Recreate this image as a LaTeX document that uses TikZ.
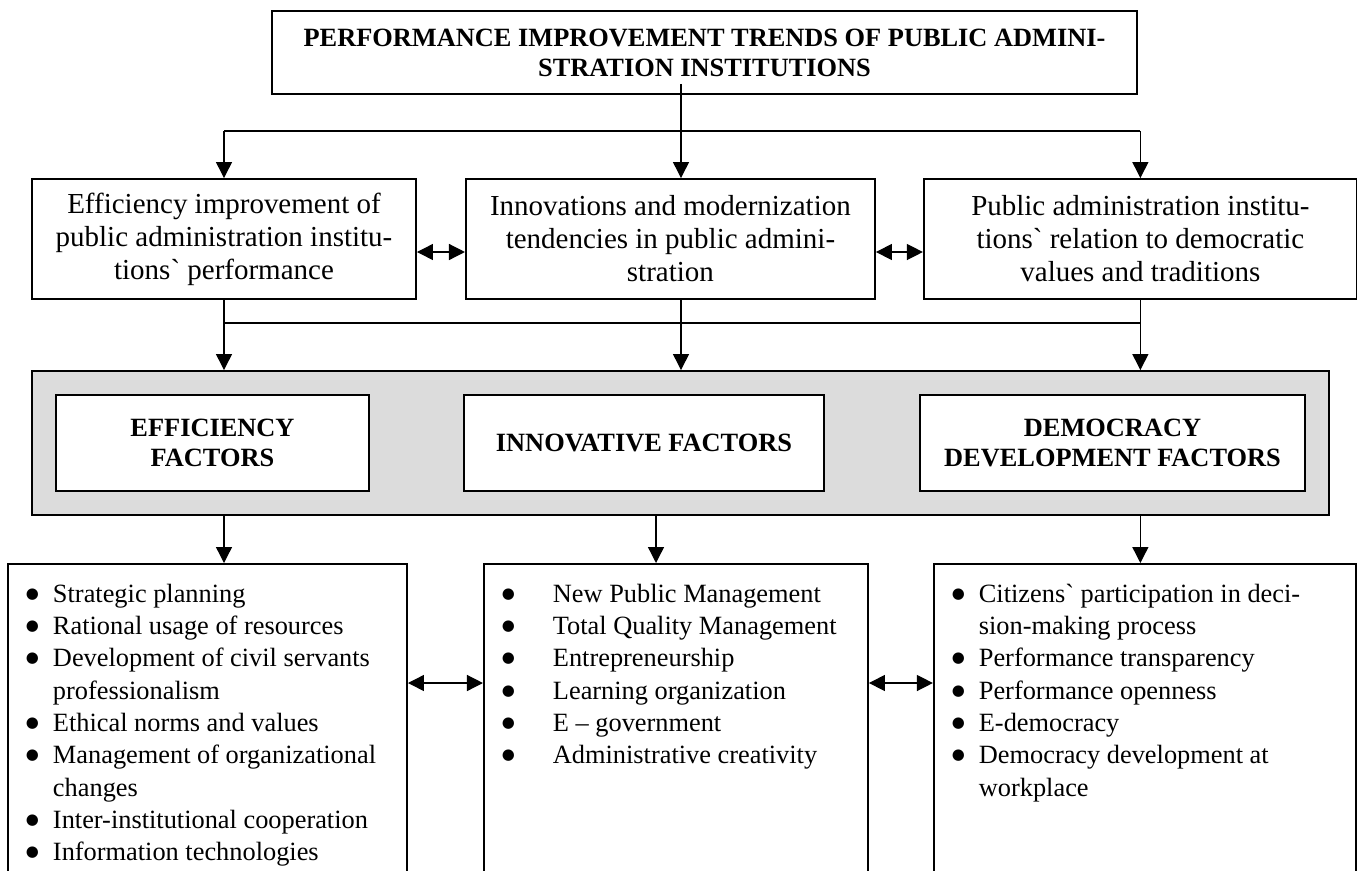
\documentclass[tikz,border=0pt]{standalone}
\usepackage{fontspec}
\setmainfont{Liberation Serif}[Ligatures=TeXOff]
\newfontfamily\dotfont{DejaVu Sans}
\usetikzlibrary{arrows.meta,calc,positioning}
\definecolor{panelgray}{RGB}{220,220,220}
\tikzstyle{trend} = [rectangle, minimum width=17.3cm, minimum height=1.66cm, text centered, draw=black, line width=1.1pt, font=\fontsize{15}{17}\selectfont\bfseries, align=center]
\tikzstyle{direction} = [rectangle, minimum height=2.4cm, text centered, draw=black, line width=1.1pt, font=\fontsize{16.5}{18.8}\selectfont, align=center]
\tikzstyle{panel} = [rectangle, minimum width=25.94cm, minimum height=2.88cm, draw=black, line width=1.1pt, fill=panelgray]
\tikzstyle{factor} = [rectangle, minimum height=1.92cm, text centered, draw=black, line width=1.1pt, fill=white, font=\fontsize{15}{17}\selectfont\bfseries, align=center]
\tikzstyle{listbox} = [rectangle, anchor=north, inner sep=0pt, draw=black, line width=1.1pt, font=\fontsize{15}{18.4}\selectfont]
\tikzstyle{link} = [line width=0.75pt]
\tikzstyle{arrow} = [line width=0.75pt,-{Triangle[length=0.32cm,width=0.32cm]}]
\tikzstyle{twoway} = [line width=0.75pt,{Triangle[length=0.32cm,width=0.32cm]}-{Triangle[length=0.32cm,width=0.32cm]}]
\newcommand{\listdot}{\raisebox{2.3pt}{\dotfont\fontsize{8.5}{10}\selectfont ●}}
\newcommand{\bul}[2][0.9cm]{\makebox[#1][l]{\hspace{0.36cm}\listdot}#2\par}
\newcommand{\cont}[2][0.9cm]{\hspace*{#1}#2\par}

\begin{document}
\begin{tikzpicture}[node distance=2cm]
\useasboundingbox (0,0) rectangle (27.14,-17.4);

\node (trend) [trend] at (14.09,-1.05) {PERFORMANCE IMPROVEMENT TRENDS OF PUBLIC ADMINI-\\STRATION INSTITUTIONS};
%
\node (effic) [direction, minimum width=7.68cm] at (4.48,-4.78) {Efficiency improvement of\\public administration institu-\\tions` performance};
\node (innov) [direction, minimum width=8.18cm, right=0.96cm of effic] {Innovations and modernization\\tendencies in public admini-\\stration};
\node (democ) [direction, minimum width=8.66cm, right=0.94cm of innov] {Public administration institu-\\tions` relation to democratic\\values and traditions};
%
\node (panel) [panel] at (13.61,-8.86) {};
\node (efficf) [factor, minimum width=6.26cm] at (4.25,-8.86) {EFFICIENCY\\FACTORS};
\node (innovf) [factor, minimum width=7.2cm] at (12.88,-8.86) {INNOVATIVE FACTORS};
\node (democf) [factor, minimum width=7.7cm] at (22.25,-8.86) {DEMOCRACY\\DEVELOPMENT FACTORS};
%
\node (efficl) [listbox] at (4.15,-11.26) {\begin{minipage}[t][6.34cm][t]{7.98cm}\vspace*{0.4cm}
\bul{Strategic planning}
\bul{Rational usage of resources}
\bul{Development of civil servants}
\cont{professionalism}
\bul{Ethical norms and values}
\bul{Management of organizational}
\cont{changes}
\bul{Inter-institutional cooperation}
\bul{Information technologies}
\end{minipage}};
\node (innovl) [listbox, right=1.5cm of efficl.north east, anchor=north west] {\begin{minipage}[t][6.34cm][t]{7.68cm}\vspace*{0.4cm}
\bul[1.38cm]{New Public Management}
\bul[1.38cm]{Total Quality Management}
\bul[1.38cm]{Entrepreneurship}
\bul[1.38cm]{Learning organization}
\bul[1.38cm]{E – government}
\bul[1.38cm]{Administrative creativity}
\end{minipage}};
\node (democl) [listbox, right=1.28cm of innovl.north east, anchor=north west] {\begin{minipage}[t][6.34cm][t]{8.44cm}\vspace*{0.4cm}
\bul{Citizens` participation in deci-}
\cont{sion-making process}
\bul{Performance transparency}
\bul{Performance openness}
\bul{E-democracy}
\bul{Democracy development at}
\cont{workplace}
\end{minipage}};
%
\coordinate (trunk) at (13.62,-2.62);
\coordinate (merge) at (13.62,-6.46);
\coordinate (drop) at (13.12,-10.3);

\draw [arrow] ($(trend.south -| trunk)+(0,0.22)$) -- (innov.north -| trunk);
\draw [link] (trunk -| effic) -- (trunk -| democ);
\draw [arrow] (trunk -| effic) -- (effic.north);
\draw [arrow] (trunk -| democ) -- (democ.north);
\draw [twoway] ([yshift=-0.26cm]effic.east) -- ([yshift=-0.26cm]innov.west);
\draw [twoway] ([yshift=-0.26cm]innov.east) -- ([yshift=-0.26cm]democ.west);
%
\draw [link] (effic.south) -- (merge -| effic);
\draw [link] (innov.south -| merge) -- (merge);
\draw [link] (democ.south) -- (merge -| democ);
\draw [link] (merge -| effic) -- (merge -| democ);
\draw [arrow] (merge -| effic) -- (panel.north -| effic);
\draw [arrow] (merge) -- (panel.north -| merge);
\draw [arrow] (merge -| democ) -- (panel.north -| democ);
%
\draw [arrow] (panel.south -| effic) -- (efficl.north -| effic);
\draw [arrow] (panel.south -| drop) -- (innovl.north -| drop);
\draw [arrow] (panel.south -| democ) -- (democl.north -| democ);
\draw [twoway] ([yshift=-2.4cm]efficl.north east) -- ([yshift=-2.4cm]innovl.north west);
\draw [twoway] ([yshift=-2.4cm]innovl.north east) -- ([yshift=-2.4cm]democl.north west);

\end{tikzpicture}
\end{document}
